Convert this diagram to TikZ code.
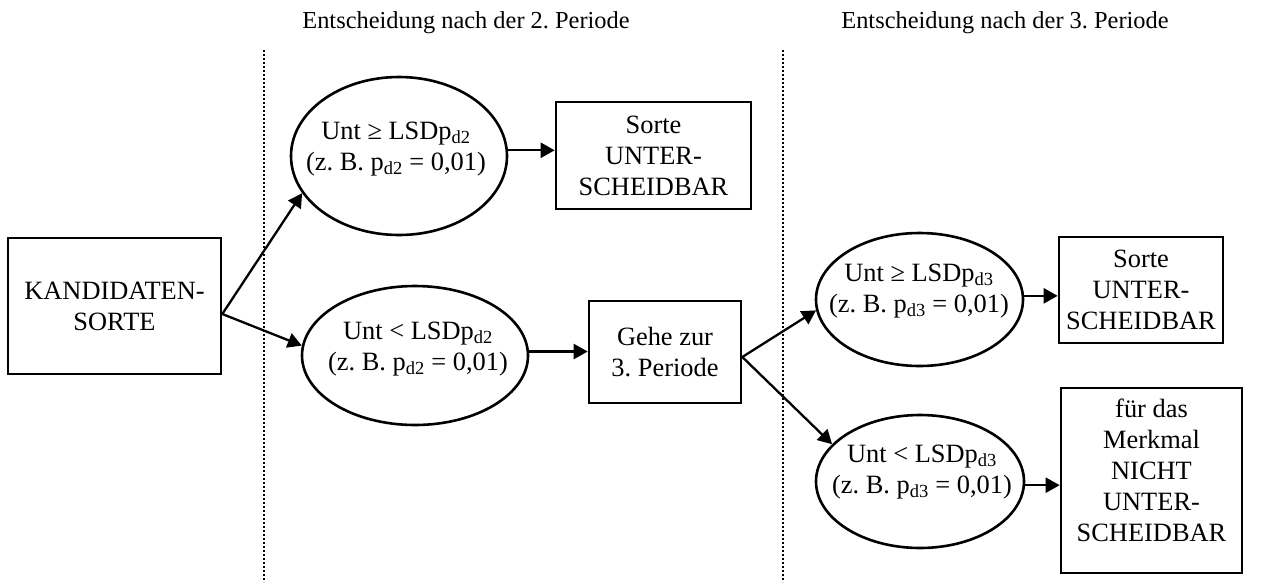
\documentclass[tikz,border=0pt]{standalone}
\usepackage{fontspec}
\setmainfont{Liberation Serif}
\usetikzlibrary{shapes.geometric,arrows.meta}
\newcommand\bodyfnt{\fontsize{26.4}{31}\selectfont}
\newcommand\headfnt{\fontsize{24.4}{28}\selectfont}
\frenchspacing
\begin{document}
\begin{tikzpicture}[x=1pt,y=-1pt,
  box/.style={draw, line width=2.6pt, rectangle, inner sep=0pt, align=center, font=\bodyfnt},
  ell/.style={draw, line width=2.6pt, ellipse, inner sep=0pt},
  etext/.style={align=center, font=\bodyfnt, inner sep=0pt},
  head/.style={font=\headfnt, inner sep=0pt, anchor=base},
  arr/.style={line width=2.3pt, -{Triangle[length=14pt,width=15pt]}},
  sep/.style={line width=2.2pt, dash pattern=on 2pt off 2pt}]
\useasboundingbox (0,0) rectangle (1278,582);

% headings
\node[head] (h1) at (466,28) {Entscheidung nach der 2. Periode};
\node[head] (h2) at (1005,28) {Entscheidung nach der 3. Periode};

% separators
\coordinate (d1t) at (264,50); \coordinate (d1b) at (264,582);
\coordinate (d2t) at (783,50); \coordinate (d2b) at (783,582);
\draw[sep] (d1t) -- (d1b);
\draw[sep] (d2t) -- (d2b);

% boxes
\node[box, minimum width=213pt, minimum height=136pt] (k) at (114.5,306) {KANDIDATEN-\\SORTE};
\node[box, minimum width=195pt, minimum height=107pt] (tb) at (653.5,155.5) {Sorte\\UNTER-\\SCHEIDBAR};
\node[box, minimum width=152pt, minimum height=102pt] (g) at (665,352) {Gehe zur\\3. Periode};
\node[box, minimum width=164pt, minimum height=106pt] (b3) at (1141,290) {Sorte\\UNTER-\\SCHEIDBAR};
\node[box, minimum width=181pt, minimum height=185pt] (b4) at (1151.5,480.5) {};
\node[etext] (b4t) at (1151.5,470) {für das\\Merkmal\\NICHT\\UNTER-\\SCHEIDBAR};

% ellipses
\node[ell, minimum width=216pt, minimum height=158pt] (e1) at (399,156) {};
\node[ell, minimum width=226pt, minimum height=139pt] (e2) at (415,355.5) {};
\node[ell, minimum width=207pt, minimum height=133pt] (e3) at (919.5,299.5) {};
\node[ell, minimum width=208pt, minimum height=133pt] (e4) at (920,481.5) {};
\node[etext] (t1) at (396,149) {Unt ≥ LSDp\textsubscript{d2}\\(z. B. p\textsubscript{d2} = 0,01)};
\node[etext] (t2) at (418,349) {Unt {\textless} LSDp\textsubscript{d2}\\(z. B. p\textsubscript{d2} = 0,01)};
\node[etext] (t3) at (919,291) {Unt ≥ LSDp\textsubscript{d3}\\(z. B. p\textsubscript{d3} = 0,01)};
\node[etext] (t4) at (922,472) {Unt {\textless} LSDp\textsubscript{d3}\\(z. B. p\textsubscript{d3} = 0,01)};

% connectors
\coordinate (ks) at ([yshift=-8pt]k.east);
\coordinate (gs) at ([yshift=-5pt]g.east);
\draw[arr] (ks) -- (e1.201);
\draw[arr] (ks) -- (e2.175);
\draw[arr] (e1.3) -- (e1.3 -| tb.west);
\draw[arr] (e2.2) -- (e2.2 -| g.west);
\draw[arr] (gs) -- (e3.186);
\draw[arr] (gs) -- (e4.157);
\draw[arr] (e3.2) -- (e3.2 -| b3.west);
\draw[arr] (e4.-2) -- (e4.-2 -| b4.west);
\end{tikzpicture}
\end{document}
